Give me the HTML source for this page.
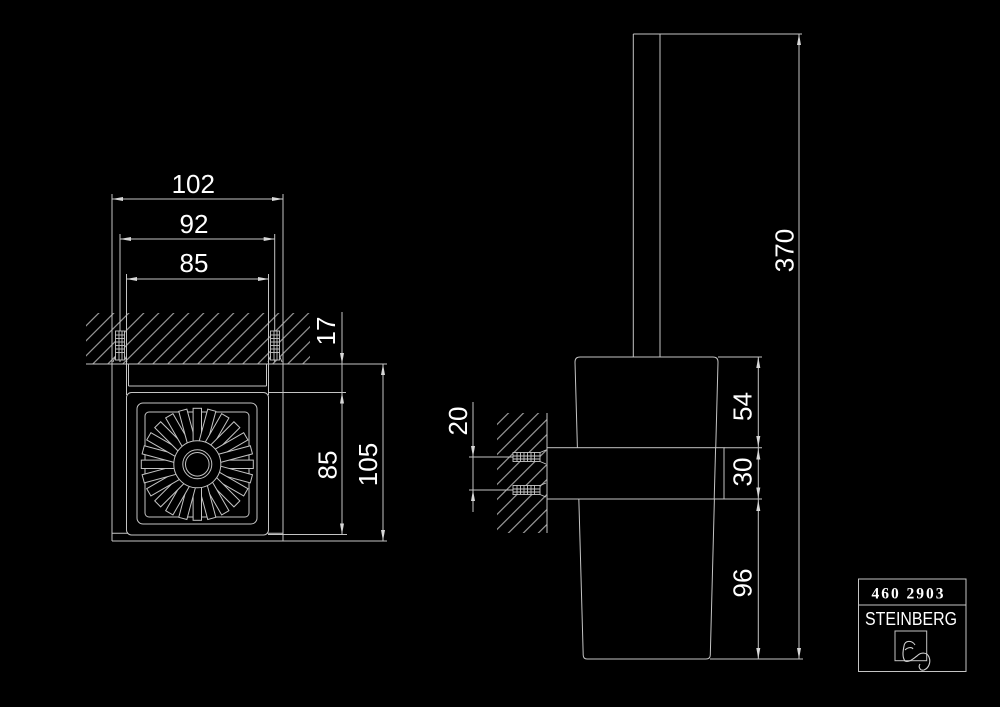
<!DOCTYPE html>
<html><head><meta charset="utf-8"><style>
html,body{margin:0;padding:0;background:#000;width:1000px;height:707px;overflow:hidden}
svg{display:block}
text{font-family:"Liberation Sans",sans-serif;fill:#fff}
</style></head><body>
<svg width="1000" height="707" viewBox="0 0 1000 707" xmlns="http://www.w3.org/2000/svg">
<defs>
<pattern id="h" patternUnits="userSpaceOnUse" width="10" height="10.6" patternTransform="rotate(-45)">
<line x1="-1" y1="5" x2="11" y2="5" stroke="#b8b8b8" stroke-width="1"/>
</pattern>
</defs>
<rect width="1000" height="707" fill="#000"/>

<g stroke="#c4c4c4" stroke-width="1" fill="none">
<!-- FRONT VIEW hatch -->
<rect x="86" y="313" width="224" height="51" fill="url(#h)" stroke="none"/>
<!-- dimension lines -->
<line x1="112" y1="199" x2="283" y2="199"/>
<line x1="120" y1="239" x2="274.7" y2="239"/>
<line x1="126" y1="279" x2="269" y2="279"/>
<!-- extension lines -->
<line x1="112" y1="194" x2="112" y2="541"/>
<line x1="283" y1="194" x2="283" y2="541"/>
<line x1="120" y1="234" x2="120" y2="362"/>
<line x1="274.7" y1="234" x2="274.7" y2="362"/>
<line x1="126.5" y1="274" x2="126.5" y2="395"/>
<line x1="268.5" y1="274" x2="268.5" y2="395"/>
<line x1="128.5" y1="364" x2="128.5" y2="386"/>
<line x1="266.5" y1="364" x2="266.5" y2="386"/>
<line x1="128.5" y1="386" x2="266.5" y2="386"/>
<!-- wall line -->
<line x1="86" y1="364" x2="387" y2="364"/>
<line x1="268" y1="392.5" x2="346" y2="392.5"/>
<line x1="112" y1="533.3" x2="283" y2="533.3"/>
<line x1="112" y1="541" x2="387" y2="541"/>
<line x1="268" y1="534.5" x2="347" y2="534.5"/>
<!-- vertical dims -->
<line x1="342" y1="312" x2="342" y2="535"/>
<line x1="383" y1="364" x2="383" y2="541"/>
<!-- anchors front -->
<g stroke="#c8c8c8" stroke-width="0.9">
<rect x="115.5" y="331" width="9" height="29" fill="#000"/>
<line x1="119" y1="331" x2="119" y2="360"/><line x1="122" y1="331" x2="122" y2="360"/>
<line x1="115.5" y1="335" x2="124.5" y2="335"/><line x1="115.5" y1="338.5" x2="124.5" y2="338.5"/>
<line x1="115.5" y1="342" x2="124.5" y2="342"/><line x1="115.5" y1="345.5" x2="124.5" y2="345.5"/>
<line x1="115.5" y1="349" x2="124.5" y2="349"/><line x1="115.5" y1="352.5" x2="124.5" y2="352.5"/>
<path d="M115.5 356 L113 362 M124.5 356 L127 362"/>
<rect x="270.5" y="331" width="9" height="29" fill="#000"/>
<line x1="274" y1="331" x2="274" y2="360"/><line x1="277" y1="331" x2="277" y2="360"/>
<line x1="270.5" y1="335" x2="279.5" y2="335"/><line x1="270.5" y1="338.5" x2="279.5" y2="338.5"/>
<line x1="270.5" y1="342" x2="279.5" y2="342"/><line x1="270.5" y1="345.5" x2="279.5" y2="345.5"/>
<line x1="270.5" y1="349" x2="279.5" y2="349"/><line x1="270.5" y1="352.5" x2="279.5" y2="352.5"/>
<path d="M270.5 356 L268 362 M279.5 356 L282 362"/>
</g>
<!-- cup front -->
<rect x="126.5" y="392.5" width="142" height="142.5" rx="5" fill="#000"/>
<rect x="137" y="403" width="120" height="121" rx="6"/>
<rect x="145" y="412" width="104" height="105" rx="4"/>
<g transform="translate(197.3,464.3)" fill="#000" stroke="#c4c4c4">
<rect x="23" y="-4.2" width="33" height="8.4" transform="rotate(0)"/>
<rect x="23" y="-4.2" width="33" height="8.4" transform="rotate(15)"/>
<rect x="23" y="-4.2" width="33" height="8.4" transform="rotate(30)"/>
<rect x="23" y="-4.2" width="33" height="8.4" transform="rotate(45)"/>
<rect x="23" y="-4.2" width="33" height="8.4" transform="rotate(60)"/>
<rect x="23" y="-4.2" width="33" height="8.4" transform="rotate(75)"/>
<rect x="23" y="-4.2" width="33" height="8.4" transform="rotate(90)"/>
<rect x="23" y="-4.2" width="33" height="8.4" transform="rotate(105)"/>
<rect x="23" y="-4.2" width="33" height="8.4" transform="rotate(120)"/>
<rect x="23" y="-4.2" width="33" height="8.4" transform="rotate(135)"/>
<rect x="23" y="-4.2" width="33" height="8.4" transform="rotate(150)"/>
<rect x="23" y="-4.2" width="33" height="8.4" transform="rotate(165)"/>
<rect x="23" y="-4.2" width="33" height="8.4" transform="rotate(180)"/>
<rect x="23" y="-4.2" width="33" height="8.4" transform="rotate(195)"/>
<rect x="23" y="-4.2" width="33" height="8.4" transform="rotate(210)"/>
<rect x="23" y="-4.2" width="33" height="8.4" transform="rotate(225)"/>
<rect x="23" y="-4.2" width="33" height="8.4" transform="rotate(240)"/>
<rect x="23" y="-4.2" width="33" height="8.4" transform="rotate(255)"/>
<rect x="23" y="-4.2" width="33" height="8.4" transform="rotate(270)"/>
<rect x="23" y="-4.2" width="33" height="8.4" transform="rotate(285)"/>
<rect x="23" y="-4.2" width="33" height="8.4" transform="rotate(300)"/>
<rect x="23" y="-4.2" width="33" height="8.4" transform="rotate(315)"/>
<rect x="23" y="-4.2" width="33" height="8.4" transform="rotate(330)"/>
<rect x="23" y="-4.2" width="33" height="8.4" transform="rotate(345)"/>
<circle r="23.5" fill="#000"/>
<circle r="14.5" fill="none"/>
<circle r="11.8" fill="none"/>
</g>

<!-- SIDE VIEW -->
<rect x="497" y="413" width="50" height="120" fill="url(#h)" stroke="none"/>
<line x1="547" y1="413" x2="547" y2="533"/>
<line x1="473" y1="402" x2="473" y2="512"/>
<line x1="469" y1="457" x2="513" y2="457"/>
<line x1="469" y1="490" x2="513" y2="490"/>
<g stroke="#c8c8c8" stroke-width="0.9">
<rect x="513" y="452.5" width="27" height="9" fill="#000"/>
<line x1="513" y1="456" x2="540" y2="456"/><line x1="513" y1="459" x2="540" y2="459"/>
<line x1="517" y1="452.5" x2="517" y2="461.5"/><line x1="520.5" y1="452.5" x2="520.5" y2="461.5"/>
<line x1="524" y1="452.5" x2="524" y2="461.5"/><line x1="527.5" y1="452.5" x2="527.5" y2="461.5"/>
<line x1="531" y1="452.5" x2="531" y2="461.5"/><line x1="534.5" y1="452.5" x2="534.5" y2="461.5"/>
<path d="M540 452.5 L546 450 M540 461.5 L546 464"/>
<rect x="513" y="485.5" width="27" height="9" fill="#000"/>
<line x1="513" y1="489" x2="540" y2="489"/><line x1="513" y1="492" x2="540" y2="492"/>
<line x1="517" y1="485.5" x2="517" y2="494.5"/><line x1="520.5" y1="485.5" x2="520.5" y2="494.5"/>
<line x1="524" y1="485.5" x2="524" y2="494.5"/><line x1="527.5" y1="485.5" x2="527.5" y2="494.5"/>
<line x1="531" y1="485.5" x2="531" y2="494.5"/><line x1="534.5" y1="485.5" x2="534.5" y2="494.5"/>
<path d="M540 485.5 L546 483 M540 494.5 L546 497"/>
</g>
<!-- handle -->
<line x1="633.3" y1="34" x2="633.3" y2="357"/>
<line x1="660" y1="34" x2="660" y2="357"/>
<line x1="633.3" y1="34" x2="802" y2="34"/>
<!-- cup -->
<path d="M575 362 Q575 357 580 357 L713 357 Q718 357 718 362 L710.3 655 Q710.2 659 706 659 L587 659 Q583.3 659 583.2 655 Z"/>
<!-- bracket -->
<rect x="547" y="447.7" width="177" height="51.3" fill="#000"/>
<line x1="715.6" y1="447.7" x2="714.2" y2="499"/>
<!-- ext lines -->
<line x1="718" y1="357" x2="762" y2="357"/>
<line x1="724" y1="447.7" x2="762" y2="447.7"/>
<line x1="724" y1="499" x2="762" y2="499"/>
<line x1="710" y1="659" x2="803" y2="659"/>
<line x1="758.3" y1="357" x2="758.3" y2="659"/>
<line x1="799" y1="34" x2="799" y2="659"/>

<!-- title block -->
<rect x="858.5" y="579" width="107.5" height="92.5"/>
<line x1="858.5" y1="605" x2="966" y2="605"/>
<rect x="895" y="631" width="31.7" height="29.7"/>
<path d="M915 645 C912 640 905 640 904 646 C903 651 902 657 905 661 C909 663 914 658 917 656 C921 652 927 652 929 657 C931 662 929 668 924 670 C920 671 918 667 920 664" stroke="#d0d0d0" stroke-width="1.1"/>
<path d="M905 650 C908 647 912 647 913 649" stroke="#d0d0d0" stroke-width="1.1"/>
</g>

<!-- arrowheads -->
<g fill="#d8d8d8" stroke="none">
<polygon points="112,199 123,197 123,201"/>
<polygon points="283,199 272,197 272,201"/>
<polygon points="120,239 131,237 131,241"/>
<polygon points="274.7,239 263.7,237 263.7,241"/>
<polygon points="126,279 137,277 137,281"/>
<polygon points="269,279 258,277 258,281"/>
<polygon points="342,364 340,353 344,353"/>
<polygon points="342,392.5 340,403.5 344,403.5"/>
<polygon points="342,534.5 340,523.5 344,523.5"/>
<polygon points="383,364 381,375 385,375"/>
<polygon points="383,541 381,530 385,530"/>
<polygon points="473,457 471,446 475,446"/>
<polygon points="473,490 471,501 475,501"/>
<polygon points="758.3,357 756.3,368 760.3,368"/>
<polygon points="758.3,447 756.3,436 760.3,436"/>
<polygon points="758.3,448.5 756.3,459.5 760.3,459.5"/>
<polygon points="758.3,498.5 756.3,487.5 760.3,487.5"/>
<polygon points="758.3,500 756.3,511 760.3,511"/>
<polygon points="758.3,659 756.3,648 760.3,648"/>
<polygon points="799,34 797,45 801,45"/>
<polygon points="799,659 797,648 801,648"/>
</g>

<!-- dimension texts -->
<g font-size="26">
<text x="193.3" y="193" text-anchor="middle">102</text>
<text x="194" y="233" text-anchor="middle">92</text>
<text x="194" y="272" text-anchor="middle">85</text>
<text transform="translate(335,331) rotate(-90)" text-anchor="middle">17</text>
<text transform="translate(336.5,465) rotate(-90)" text-anchor="middle">85</text>
<text transform="translate(377,464.5) rotate(-90)" text-anchor="middle">105</text>
<text transform="translate(467,421) rotate(-90)" text-anchor="middle">20</text>
<text transform="translate(751.5,406.5) rotate(-90)" text-anchor="middle">54</text>
<text transform="translate(751.5,472) rotate(-90)" text-anchor="middle">30</text>
<text transform="translate(751.5,583) rotate(-90)" text-anchor="middle">96</text>
<text transform="translate(793.5,250.5) rotate(-90)" text-anchor="middle">370</text>
</g>
<text x="871.5" y="598.5" font-size="15.5" font-weight="bold" style="font-family:'Liberation Serif',serif" textLength="72" lengthAdjust="spacing">460  2903</text>
<text x="865" y="625" font-size="18" textLength="92" lengthAdjust="spacingAndGlyphs" fill="#e0e0e0">STEINBERG</text>
</svg>
</body></html>
